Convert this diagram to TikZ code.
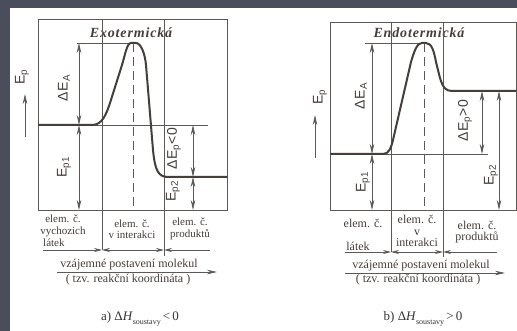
\documentclass[tikz,border=0pt]{standalone}
\usepackage{fontspec}
\setmainfont{Liberation Serif}
\setsansfont{Liberation Sans}
\newfontfamily\lblfont[LetterSpace=4]{Liberation Sans}
\newfontfamily\ttlfont[LetterSpace=6]{Liberation Serif}
\usepackage{xcolor}
\usepackage{tikz}
\usetikzlibrary{arrows.meta}

\definecolor{slide}{RGB}{74,77,92}
\definecolor{ink}{RGB}{70,62,58}
\definecolor{thin}{RGB}{92,88,86}

\begin{document}
\begin{tikzpicture}[
    x=1pt, y=-1pt,
    % --- frame and guide lines ---
    frame/.style={draw=thin, line width=0.8pt},
    guide/.style={draw=thin, line width=0.7pt},
    peakline/.style={draw=thin, line width=0.9pt, dash pattern=on 9pt off 5pt},
    % --- the energy profile itself ---
    level/.style={draw=ink, line width=2pt, line join=round},
    % --- arrows ---
    dimarr/.style={{Stealth[length=10pt,width=4.5pt]}-{Stealth[length=10pt,width=4.5pt]},
                   draw=thin, line width=0.8pt},
    stage/.style={draw=thin, line width=0.8pt},
    stip/.tip={Stealth[length=8pt,width=4pt]},
    axisarr/.style={-{Stealth[length=10pt,width=4.5pt]}, draw=thin, line width=0.8pt},
    % --- texts ---
    lbl/.style={font=\lblfont\fontsize{14}{14}\selectfont, text=ink, rotate=90,
                inner sep=0pt},
    ttl/.style={font=\ttlfont\bfseries\itshape\fontsize{14}{14}\selectfont, text=ink,
                inner sep=0pt},
    col/.style={font=\fontsize{11}{11.5}\selectfont, text=ink, align=center, inner sep=0pt},
    colb/.style={col, font=\fontsize{12}{11.5}\selectfont},
    rc/.style={font=\fontsize{12}{12}\selectfont, text=ink, inner sep=0pt},
    caption/.style={font=\fontsize{13}{13}\selectfont, text=black!80, inner sep=0pt},
  ]
  \useasboundingbox (0,0) rectangle (517,331);

  % ---- slide background ----------------------------------------------------
  \fill[slide] (0,0) rectangle (517,331);
  \fill[white] (10,8) rectangle (517,331);

  % ==== a) EXOTHERMIC ========================================================
  \draw[frame] (38,19) rectangle (227,210);
  \node[ttl] (aTitle) at (131,33) {Exotermická};

  % stage boundaries and the activated complex
  \coordinate (a1top) at (102,19);  \coordinate (a1bot) at (102,250);
  \coordinate (a2top) at (164,19);  \coordinate (a2bot) at (164,256);
  \coordinate (aPeak) at (133,43);  \coordinate (aPeakBot) at (133,206);
  \draw[guide] (a1top) -- (a1bot);
  \draw[guide] (a2top) -- (a2bot);
  \draw[peakline] (aPeak) -- (aPeakBot);

  % reference levels
  \coordinate (aTopL) at (77,43);
  \coordinate (aLvl1) at (92,125);  \coordinate (aLvl1R) at (208,125);
  \draw[guide] (aTopL) -- (aPeak);
  \draw[guide] (aLvl1) -- (aLvl1R);

  % energy profile
  \draw[level] (38,125) -- (aLvl1) .. controls (102,125) and (106,115) .. (110,103)
        -- (122,65) .. controls (125,55) and (127,43) .. (131,43) -- (136,43)
        .. controls (141,43) and (145,54) .. (146,65) -- (153,150)
        .. controls (155,170) and (158,177) .. (168,177) -- (227,177);

  % energy differences
  \coordinate (aA1) at (79,43);  \coordinate (aA2) at (79,125);  \coordinate (aA3) at (79,210);
  \coordinate (aB1) at (193,125); \coordinate (aB2) at (193,177); \coordinate (aB3) at (193,210);
  \draw[dimarr] (aA1) -- (aA2);
  \draw[dimarr] (aA2) -- (aA3);
  \draw[dimarr] (aB1) -- (aB2);
  \draw[dimarr] (aB2) -- (aB3);
  \node[lbl] (aEa)  at (64,88)   {ΔE\textsubscript{A}};
  \node[lbl] (aEp1) at (64,167)  {E\textsubscript{p1}};
  \node[lbl] (aDEp) at (174,149) {ΔE\textsubscript{p}<0};
  \node[lbl] (aEp2) at (173,191) {E\textsubscript{p2}};

  % energy axis
  \coordinate (aAx0) at (25,137); \coordinate (aAx1) at (25,94);
  \draw[axisarr] (aAx0) -- (aAx1);
  \node[lbl] (aEp) at (22,77) {E\textsubscript{p}};

  % stages along the reaction
  \node[col] (aCol1) at (63,226) {elem. č.\\vychozich};
  \node[col, anchor=west] (aCol1b) at (43,243) {látek};
  \node[col] (aCol2) at (132,229) {elem. č.\\v interakci};
  \node[col] (aCol3) at (190,229) {elem. č.\\produktů};
  \coordinate (aS0) at (43,250);  \coordinate (aS1) at (102,250);
  \coordinate (aS2) at (164,250); \coordinate (aS3) at (210,250);
  \draw[stage, -stip] (aS0) -- (aS1);
  \draw[stage, stip-stip] (aS1) -- (aS2);
  \draw[stage, stip-] (aS2) -- (aS3);

  % reaction coordinate
  \coordinate (aRc0) at (57,272); \coordinate (aRc1) at (217,272);
  \draw[axisarr] (aRc0) -- (aRc1);
  \node[rc] (aRcTxt) at (129,265) {vzájemné postavení molekul};
  \node[rc] (aRkTxt) at (128,280) {( tzv. reakční koordináta )};
  \node[caption] (aCap) at (140,319)
        {a) Δ\textit{H}\raisebox{-3.5pt}{\fontsize{8}{8}\selectfont soustavy}\,<\,0};

  % ==== b) ENDOTHERMIC =======================================================
  \draw[frame] (330,22) rectangle (516,210);
  \node[ttl] (bTitle) at (419,33) {Endotermická};

  % stage boundaries and the activated complex
  \coordinate (b1top) at (391,22);  \coordinate (b1bot) at (391,252);
  \coordinate (b2top) at (443,22);  \coordinate (b2bot) at (443,257);
  \coordinate (bPeak) at (424,43);  \coordinate (bPeakBot) at (424,210);
  \draw[guide] (b1top) -- (b1bot);
  \draw[guide] (b2top) -- (b2bot);
  \draw[peakline] (bPeak) -- (bPeakBot);

  % reference levels
  \coordinate (bTopL) at (365,43);
  \coordinate (bLvl1) at (383,154); \coordinate (bLvl1R) at (488,154);
  \draw[guide] (bTopL) -- (bPeak);
  \draw[guide] (bLvl1) -- (bLvl1R);

  % energy profile
  \draw[level] (330,154) -- (bLvl1) .. controls (389,154) and (391,148) .. (393,140)
        -- (411,62) .. controls (415,48) and (418,43) .. (422,43) -- (426,43)
        .. controls (432,43) and (434,52) .. (436,62) -- (440,78)
        .. controls (443,88) and (446,91) .. (452,91) -- (516,91);

  % energy differences
  \coordinate (bA1) at (372,43);  \coordinate (bA2) at (372,154); \coordinate (bA3) at (372,210);
  \coordinate (bB1) at (482,91);  \coordinate (bB2) at (482,154);
  \coordinate (bC1) at (499,91);  \coordinate (bC2) at (499,210);
  \draw[dimarr] (bA1) -- (bA2);
  \draw[dimarr] (bA2) -- (bA3);
  \draw[dimarr] (bB1) -- (bB2);
  \draw[dimarr] (bC1) -- (bC2);
  \node[lbl] (bEa)  at (361,96)  {ΔE\textsubscript{A}};
  \node[lbl] (bEp1) at (363,182) {E\textsubscript{p1}};
  \node[lbl] (bDEp) at (465,121) {ΔE\textsubscript{p}>0};
  \node[lbl] (bEp2) at (491,175) {E\textsubscript{p2}};

  % energy axis
  \coordinate (bAx0) at (315,158); \coordinate (bAx1) at (315,115);
  \draw[axisarr] (bAx0) -- (bAx1);
  \node[lbl] (bEp) at (320,97) {E\textsubscript{p}};

  % stages along the reaction
  \node[colb] (bCol1) at (363,223) {elem. č.};
  \node[colb] (bCol1b) at (358,246) {látek};
  \node[colb] (bCol2) at (417,231) {elem. č.\\v\\interakci};
  \node[colb] (bCol3) at (477,232) {elem. č.\\produktů};
  \coordinate (bS0) at (345,252); \coordinate (bS1) at (391,252);
  \coordinate (bS2) at (443,252); \coordinate (bS3) at (497,252);
  \draw[stage, -stip] (bS0) -- (bS1);
  \draw[stage, stip-stip] (bS1) -- (bS2);
  \draw[stage, stip-] (bS2) -- (bS3);

  % reaction coordinate
  \coordinate (bRc0) at (345,273); \coordinate (bRc1) at (505,273);
  \draw[axisarr] (bRc0) -- (bRc1);
  \node[rc] (bRcTxt) at (421,266) {vzájemné postavení molekul};
  \node[rc] (bRkTxt) at (418,280) {( tzv. reakční koordináta )};
  \node[caption] (bCap) at (423,319)
        {b) Δ\textit{H}\raisebox{-3.5pt}{\fontsize{8}{8}\selectfont soustavy}\,>\,0};

\end{tikzpicture}
\end{document}
